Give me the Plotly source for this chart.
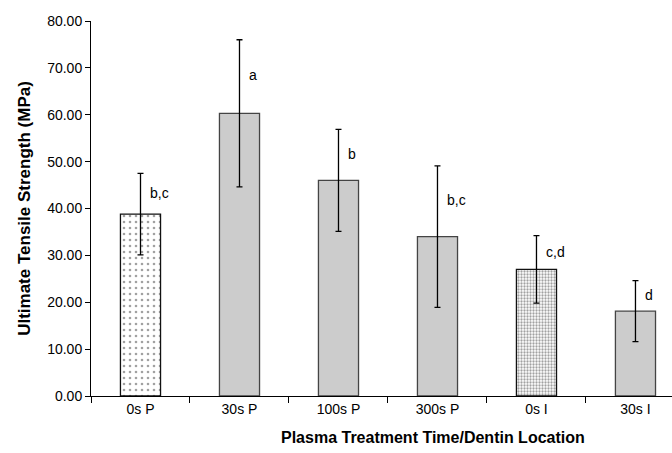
import plotly.graph_objects as go

categories = ["0s P", "30s P", "100s P", "300s P", "0s I", "30s I"]
means = [38.8, 60.3, 46.0, 34.0, 27.0, 18.1]
errors = [8.7, 15.7, 10.9, 15.1, 7.2, 6.5]
letters = ["b,c", "a", "b", "b,c", "c,d", "d"]
y_ticks = [0, 10, 20, 30, 40, 50, 60, 70, 80]

FONT = "Liberation Sans, Arial, sans-serif"

fills = ["white", "#cccccc", "#cccccc", "#cccccc", "white", "#cccccc"]
lines = ["#111111", "#444444", "#444444", "#444444", "#111111", "#444444"]
shapes = [".", "", "", "", ".", ""]
psizes = [6, 8, 8, 8, 3, 8]
psolid = [0.15, 0.2, 0.2, 0.2, 0.45, 0.2]

fig = go.Figure()
fig.add_trace(go.Bar(
    x=categories, y=means,
    width=0.405,
    marker=dict(
        color=fills,
        line=dict(color=lines, width=1.3),
        pattern=dict(shape=shapes, size=psizes, solidity=psolid,
                     fgcolor="black", bgcolor=fills, fillmode="overlay"),
    ),
    error_y=dict(type="data", array=errors, visible=True,
                 color="black", thickness=1.3, width=3),
    showlegend=False,
    hoverinfo="skip",
))

for i, (m, e, t) in enumerate(zip(means, errors, letters)):
    fig.add_annotation(x=i + 0.08, y=m + e * 0.52, text=t, showarrow=False,
                       xref="x", yref="y", xanchor="left", yanchor="middle",
                       font=dict(family=FONT, size=14, color="black"))

fig.add_annotation(text="<b>Plasma Treatment Time/Dentin Location</b>",
                   x=0.589, y=-0.11, xref="paper", yref="paper",
                   xanchor="center", yanchor="middle", showarrow=False,
                   font=dict(family=FONT, size=16, color="black"))

fig.update_layout(
    width=672, height=453,
    margin=dict(l=91, r=0, t=21, b=57, autoexpand=False),
    plot_bgcolor="white", paper_bgcolor="white",
    font=dict(family=FONT, size=14, color="black"),
    xaxis=dict(
        type="category", range=[-0.5, 5.369],
        showline=True, linecolor="black", linewidth=1,
        ticks="outside", tickson="boundaries", ticklen=6, tickcolor="black",
        showgrid=False, tickfont=dict(family=FONT, size=14),
    ),
    yaxis=dict(
        range=[0, 80], tickvals=y_ticks, tickformat=".2f",
        showline=True, linecolor="black", linewidth=1,
        ticks="outside", ticklen=5, tickcolor="black",
        showgrid=False, zeroline=False,
        tickfont=dict(family=FONT, size=14),
        title=dict(text="<b>Ultimate Tensile Strength (MPa)</b>",
                   font=dict(family=FONT, size=17), standoff=12),
    ),
)

fig.write_html("out.html",
               config={"displayModeBar": False},
               post_script="document.body.style.margin='0';document.body.style.padding='0';")
